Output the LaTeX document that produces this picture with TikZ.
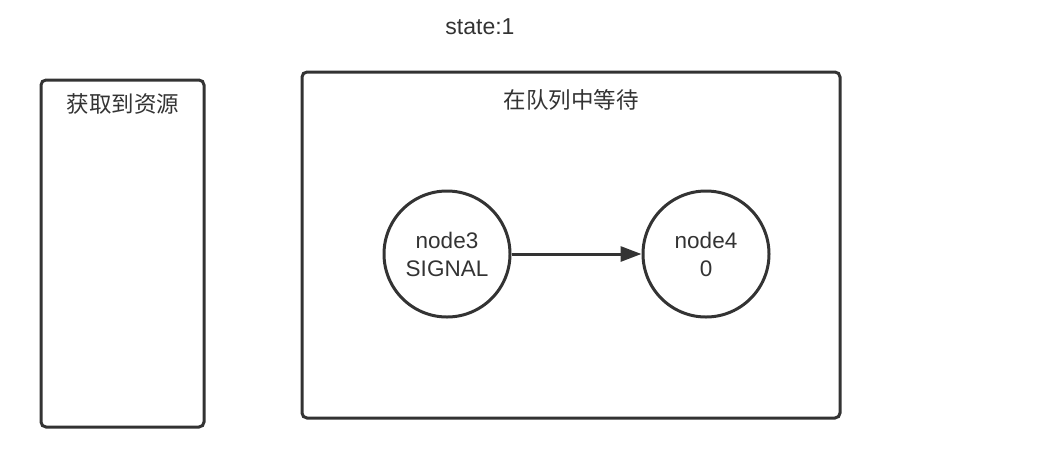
\documentclass[tikz,border=0pt]{standalone}
\usepackage{fontspec}
\setmainfont{Liberation Sans}
\newfontfamily\cjk{Noto Sans CJK SC}
\usetikzlibrary{arrows.meta}
\definecolor{ink}{HTML}{333333}
\begin{document}
\begin{tikzpicture}[x=1pt,y=-1pt,
  box/.style={draw=ink,line width=3pt,rounded corners=5pt},
  circ/.style={draw=ink,line width=3pt,circle,minimum size=126pt,inner sep=0pt,align=center,
    font=\fontsize{22.5}{28}\selectfont,text=ink},
  lbl/.style={text=ink,font=\fontsize{22.5}{26}\selectfont\cjk,inner sep=0pt},
  conn/.style={draw=ink,line width=3pt,-{Triangle[length=21pt,width=15pt]}}]
\useasboundingbox (0,0) rectangle (1062,472);
\node[text=ink,font=\fontsize{23}{26}\selectfont,inner sep=0pt] (state) at (480,27) {state:1};
\draw[box] (41,80) rectangle (204,427);
\node[lbl] (l1) at (123,104) {获取到资源};
\draw[box] (302,72) rectangle (840,418);
\node[lbl] (l2) at (571,100) {在队列中等待};
\node[circ] (n3) at (447,254) {node3\\SIGNAL};
\node[circ] (n4) at (706,254) {node4\\0};
\draw[conn] (n3) -- (n4);
\end{tikzpicture}
\end{document}
